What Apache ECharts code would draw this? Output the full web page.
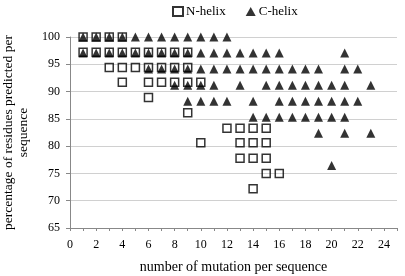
<!DOCTYPE html>
<html>
<head>
<meta charset="utf-8">
<script src="https://cdn.jsdelivr.net/npm/echarts@6/dist/echarts.min.js"></script>
<style>
  html, body { margin: 0; padding: 0; background: #fff; }
  #chart { width: 405px; height: 276px; }
</style>
</head>
<body>
<div id="chart"></div>
<script>
// percentage levels and the mutation counts found at each level
const nLevels = [100, 97.2, 94.4, 91.7, 88.9, 86.1, 83.3, 80.6, 77.8, 75.0, 72.2];
const nMutations = [
  [1, 2, 3, 4],
  [1, 2, 3, 4, 5, 6, 7, 8, 9],
  [3, 4, 5, 6, 7, 8, 9],
  [4, 6, 7, 8, 9, 10],
  [6],
  [9],
  [12, 13, 14, 15],
  [10, 13, 14, 15],
  [13, 14, 15],
  [15, 16],
  [14]
];
const cLevels = [100, 97.06, 94.12, 91.18, 88.24, 85.29, 82.35, 76.47];
const cMutations = [
  [1, 2, 3, 4, 5, 6, 7, 8, 9, 10, 11, 12],
  [1, 2, 3, 4, 5, 6, 7, 8, 9, 10, 11, 12, 13, 14, 15, 16, 21],
  [6, 7, 8, 9, 10, 11, 12, 13, 14, 15, 16, 17, 18, 19, 21, 22],
  [8, 9, 10, 11, 13, 15, 16, 17, 18, 19, 20, 21, 23],
  [9, 10, 11, 12, 14, 16, 17, 18, 19, 20, 21, 22],
  [14, 15, 16, 17, 18, 19, 20, 21],
  [19, 21, 23],
  [20]
];

function toPoints(levels, mutations) {
  let pts = [];
  levels.forEach((lv, i) => {
    mutations[i].forEach(m => pts.push([m, lv]));
  });
  return pts;
}

const font = "'Liberation Serif', 'Times New Roman', serif";
let chart = echarts.init(document.getElementById("chart"));
let option = {
  animation: false,
  textStyle: { fontFamily: font, color: "#000" },
  legend: {
    top: 0,
    left: 167,
    itemWidth: 10,
    itemHeight: 9,
    itemGap: 20,
    textStyle: { fontFamily: font, fontSize: 13, color: "#000", padding: [0, 0, 0, -2] },
    data: ["N-helix", "C-helix"]
  },
  grid: {
    left: 70,
    right: 8,
    top: 37,
    bottom: 48,
    outerBoundsMode: "none"
  },
  xAxis: {
    type: "value",
    min: 0,
    max: 25,
    interval: 1,
    name: "number of mutation per sequence",
    nameLocation: "middle",
    nameGap: 32,
    nameTextStyle: { fontFamily: font, fontSize: 14, color: "#000" },
    axisLine: { lineStyle: { color: "#888" } },
    axisTick: { length: 3, lineStyle: { color: "#888" } },
    axisLabel: {
      fontFamily: font,
      fontSize: 12,
      color: "#000",
      margin: 11,
      formatter: v => (v % 2 === 0 && v <= 24 ? String(v) : "")
    },
    splitLine: { show: false }
  },
  yAxis: {
    type: "value",
    min: 65,
    max: 100,
    interval: 5,
    name: "percentage of residues predicted per\nsequence",
    nameLocation: "middle",
    nameRotate: 90,
    nameGap: 34,
    nameTextStyle: { fontFamily: font, fontSize: 13.5, color: "#000", lineHeight: 15 },
    axisLine: { show: true, lineStyle: { color: "#888" } },
    axisTick: { show: true, length: 4, lineStyle: { color: "#888" } },
    axisLabel: { fontFamily: font, fontSize: 12, color: "#000", margin: 10 },
    splitLine: { lineStyle: { color: "#d0d0d0" } }
  },
  series: [
    {
      name: "N-helix",
      type: "scatter",
      symbol: "rect",
      symbolSize: 8,
      itemStyle: { color: "rgba(255,255,255,0)", borderColor: "#000", borderWidth: 1.5 },
      data: toPoints(nLevels, nMutations)
    },
    {
      name: "C-helix",
      type: "scatter",
      symbol: "triangle",
      symbolSize: 9,
      itemStyle: { color: "#000" },
      data: toPoints(cLevels, cMutations)
    }
  ]
};
chart.setOption(option);
</script>
</body>
</html>
